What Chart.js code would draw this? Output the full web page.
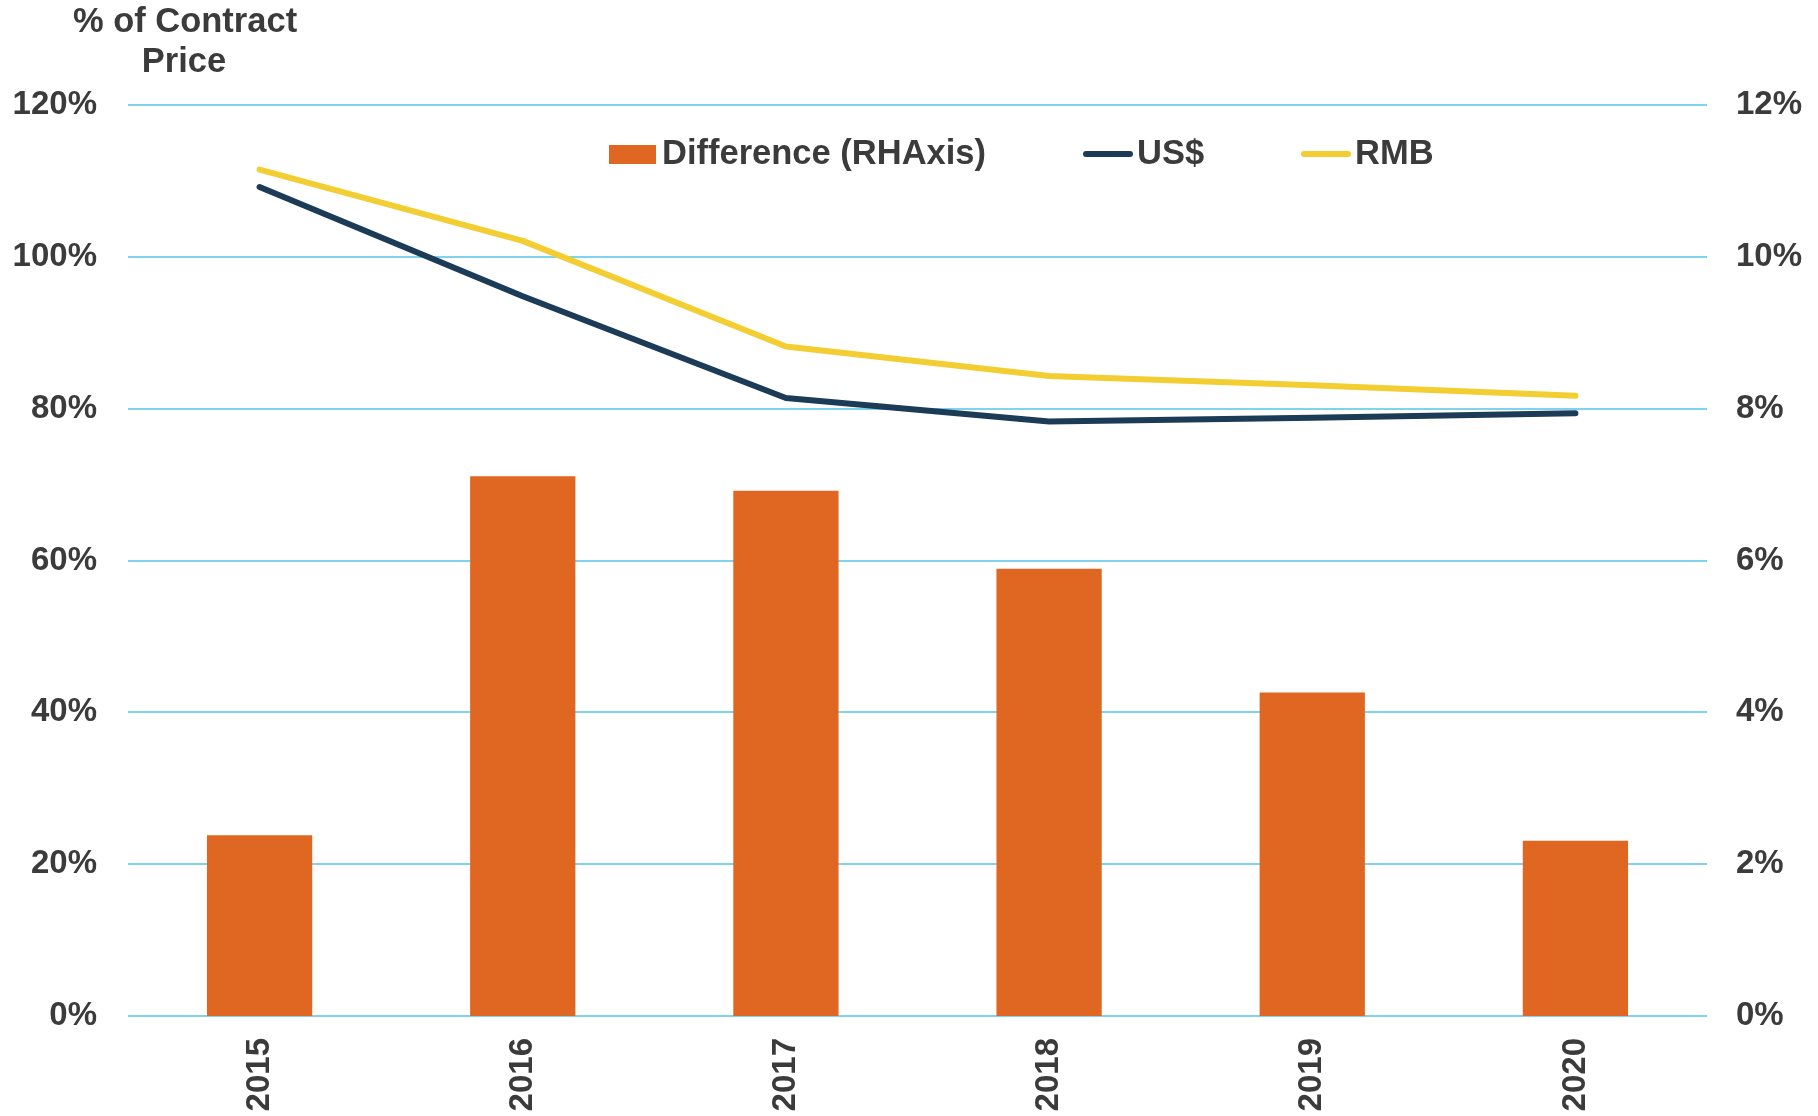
<!DOCTYPE html>
<html><head><meta charset="utf-8">
<script src="https://cdn.jsdelivr.net/npm/chart.js@4.4.1/dist/chart.umd.min.js"></script>
<style>html,body{margin:0;padding:0;background:#fff;overflow:hidden;}</style>
</head><body><canvas id="c" width="1818" height="1116"></canvas>
<script>
const categories = ['2015','2016','2017','2018','2019','2020'];
const differenceRH = [2.38, 7.11, 6.92, 5.89, 4.26, 2.31];
const usd = [109.2, 94.8, 81.4, 78.3, 78.8, 79.4];
const rmb = [111.5, 102.1, 88.2, 84.3, 83.1, 81.7];
const leftTickValues = [0, 20, 40, 60, 80, 100, 120];
const rightTickValues = [0, 2, 4, 6, 8, 10, 12];
const titleLines = ['% of Contract', 'Price'];
const seriesNames = ['Difference (RHAxis)', 'US$', 'RMB'];

const FONT = '"Liberation Sans", Arial, sans-serif';
const TEXT = '#3b3b3b';
const BAR = '#E06722';
const NAVY = '#1B3B57';
const GOLD = '#F2CE32';
const GRID = '#7FD3EF';

const chromePlugin = {
  id: 'chrome',
  afterDraw(chart) {
    const ctx = chart.ctx;
    ctx.save();
    ctx.fillStyle = TEXT;
    ctx.textBaseline = 'middle';
    ctx.textAlign = 'center';
    ctx.font = 'bold 34.5px ' + FONT;
    ctx.fillText(titleLines[0], 185, 22);
    ctx.fillText(titleLines[1], 184, 62);

    const ds = chart.data.datasets;
    const y = 154;
    ctx.font = 'bold 34.5px ' + FONT;
    ctx.textAlign = 'left';
    ctx.fillStyle = ds[0].backgroundColor;
    ctx.fillRect(609, y - 9, 47, 19);
    ctx.fillStyle = TEXT;
    ctx.fillText(ds[0].label, 662, y);
    const items = [[ds[1], 1083, 1137], [ds[2], 1301, 1355]];
    items.forEach(([d, x0, tx]) => {
      ctx.strokeStyle = d.borderColor;
      ctx.lineWidth = 6;
      ctx.lineCap = 'round';
      ctx.beginPath();
      ctx.moveTo(x0 + 3, y);
      ctx.lineTo(x0 + 47, y);
      ctx.stroke();
      ctx.fillStyle = TEXT;
      ctx.fillText(d.label, tx, y);
    });
    ctx.restore();
  }
};

new Chart(document.getElementById('c'), {
  data: {
    labels: categories,
    datasets: [
      { type: 'bar', label: seriesNames[0], data: differenceRH, yAxisID: 'y1',
        backgroundColor: BAR, borderWidth: 0, barPercentage: 0.4, categoryPercentage: 1.0, order: 2 },
      { type: 'line', label: seriesNames[1], data: usd, yAxisID: 'y',
        borderColor: NAVY, backgroundColor: NAVY, borderWidth: 6, pointRadius: 0,
        tension: 0, borderCapStyle: 'round', borderJoinStyle: 'round', order: 1 },
      { type: 'line', label: seriesNames[2], data: rmb, yAxisID: 'y',
        borderColor: GOLD, backgroundColor: GOLD, borderWidth: 6, pointRadius: 0,
        tension: 0, borderCapStyle: 'round', borderJoinStyle: 'round', order: 0 }
    ]
  },
  options: {
    responsive: false,
    animation: false,
    devicePixelRatio: 1,
    layout: { padding: { top: 105, bottom: 0, left: 0, right: 0 } },
    plugins: { legend: { display: false }, tooltip: { enabled: false } },
    scales: {
      x: {
        grid: { display: false, drawTicks: false },
        border: { display: false },
        ticks: { color: TEXT, font: { family: FONT, size: 33, weight: 'bold' },
                 minRotation: 90, maxRotation: 90, padding: 22, autoSkip: false },
        afterFit(s) { s.height = 100; }
      },
      y: {
        position: 'left', min: 0, max: 120,
        afterBuildTicks(s) { s.ticks = leftTickValues.map(v => ({ value: v })); },
        grid: { color: GRID, lineWidth: 2, drawTicks: false },
        border: { display: false },
        ticks: { color: TEXT, font: { family: FONT, size: 33, weight: 'bold' }, padding: 31,
                 callback: v => v + '%' },
        afterFit(s) { s.width = 128; }
      },
      y1: {
        position: 'right', min: 0, max: 12,
        afterBuildTicks(s) { s.ticks = rightTickValues.map(v => ({ value: v })); },
        grid: { display: false, drawTicks: false },
        border: { display: false },
        ticks: { color: TEXT, font: { family: FONT, size: 33, weight: 'bold' }, padding: 29,
                 callback: v => v + '%' },
        afterFit(s) { s.width = 111; }
      }
    }
  },
  plugins: [chromePlugin]
});
</script>
</body></html>
